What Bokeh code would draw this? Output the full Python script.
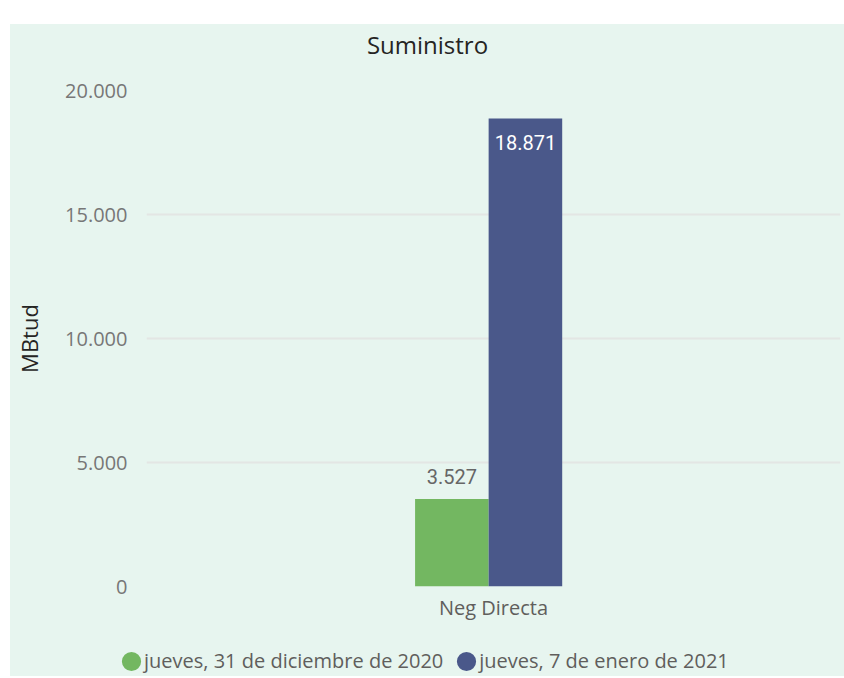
from bokeh.plotting import figure
from bokeh.models import (FactorRange, Range1d, FixedTicker, ColumnDataSource, Legend, LegendItem,
                          Spacer, Label)
from bokeh.layouts import column, row
from bokeh.transform import dodge
from bokeh.core.properties import value
from bokeh.embed import file_html
from bokeh.resources import INLINE

# ---- data ----
categories = ["Neg Directa"]
series_names = ["jueves, 31 de diciembre de 2020", "jueves, 7 de enero de 2021"]
values_dic31 = [3527]
values_ene07 = [18871]
y_ticks = [0, 5000, 10000, 15000, 20000]
y_tick_labels = ["0", "5.000", "10.000", "15.000", "20.000"]
title_text = "Suministro"
y_label = "MBtud"

def fmt(v):
    return f"{v:,}".replace(",", ".")

BG = "#e7f5ef"
GREEN = "#73b761"
NAVY = "#4a588a"
GRAY = "#666666"
DARK = "#252423"
FONT = "Open Sans"


def strip(h):
    f = figure(width=834, height=h, output_backend="svg", toolbar_location=None,
               x_range=Range1d(0, 1), y_range=Range1d(0, 1),
               min_border_left=0, min_border_right=0, min_border_top=0, min_border_bottom=0)
    f.background_fill_color = BG
    f.border_fill_color = BG
    f.outline_line_color = None
    f.axis.visible = False
    f.grid.visible = False
    return f


# ---- title strip ----
t = strip(40)
t.add_layout(Label(x=0.5, y=0.5, text=title_text, text_align="center", text_baseline="middle",
                   text_font=FONT, text_font_size="24px", text_color=DARK))

# ---- main chart ----
p = figure(x_range=FactorRange(*categories, range_padding=0), y_range=Range1d(0, 20000),
           width=834, height=562, output_backend="svg", toolbar_location=None,
           min_border_left=136, min_border_right=4, min_border_top=26, min_border_bottom=40)
p.background_fill_color = BG
p.border_fill_color = BG
p.outline_line_color = None

src = ColumnDataSource(dict(cat=categories, a=values_dic31, b=values_ene07,
                            la=[fmt(v) for v in values_dic31], lb=[fmt(v) for v in values_ene07]))

bw = 0.106
p.vbar(x=dodge("cat", -0.06, range=p.x_range), top="a", width=bw, source=src,
       fill_color=GREEN, line_color=None)
p.vbar(x=dodge("cat", 0.046, range=p.x_range), top="b", width=bw, source=src,
       fill_color=NAVY, line_color=None)

p.text(x=dodge("cat", -0.06, range=p.x_range), y="a", text="la", source=src,
       text_font=value("Roboto"), text_font_size="20px", text_color=GRAY,
       text_align="center", text_baseline="middle", y_offset=-23)
p.text(x=dodge("cat", 0.046, range=p.x_range), y="b", text="lb", source=src,
       text_font=value("Roboto"), text_font_size="20px", text_color="white",
       text_align="center", text_baseline="middle", y_offset=24)

p.yaxis.ticker = FixedTicker(ticks=y_ticks)
p.yaxis.major_label_overrides = {tk: lb for tk, lb in zip(y_ticks, y_tick_labels)}
p.yaxis.axis_line_color = None
p.yaxis.major_tick_line_color = None
p.yaxis.minor_tick_line_color = None
p.yaxis.major_tick_out = 0
p.yaxis.major_label_standoff = 19
p.yaxis.major_label_text_font = FONT
p.yaxis.major_label_text_font_size = "20px"
p.yaxis.major_label_text_color = "#777777"
p.yaxis.axis_label = y_label
p.yaxis.axis_label_text_font = FONT
p.yaxis.axis_label_text_font_size = "22px"
p.yaxis.axis_label_text_font_style = "normal"
p.yaxis.axis_label_text_color = DARK
p.yaxis.axis_label_standoff = 18

p.xaxis.axis_line_color = None
p.xaxis.major_tick_line_color = None
p.xaxis.major_tick_out = 0
p.xaxis.major_label_standoff = 7
p.xaxis.major_label_text_font = FONT
p.xaxis.major_label_text_font_size = "20px"
p.xaxis.major_label_text_color = "#605e5c"

p.xgrid.grid_line_color = None
p.ygrid.grid_line_color = "#e3e6e4"
p.ygrid.grid_line_width = 2

# ---- legend strip ----
q = strip(50)
nan = float("nan")
ra = q.ellipse(x=[nan], y=[nan], width=19, height=19, width_units="screen", height_units="screen",
               fill_color=GREEN, line_color=None)
rb = q.ellipse(x=[nan], y=[nan], width=19, height=19, width_units="screen", height_units="screen",
               fill_color=NAVY, line_color=None)
legend = Legend(items=[LegendItem(label=series_names[0], renderers=[ra]),
                       LegendItem(label=series_names[1], renderers=[rb])],
                orientation="horizontal", location=(109, 2),
                background_fill_alpha=0, border_line_color=None,
                label_text_font=FONT, label_text_font_size="20px", label_text_color="#605e5c",
                glyph_width=24, glyph_height=24, label_standoff=1, spacing=11, padding=0, margin=0)
q.add_layout(legend, "center")

inner = column(row(t), row(p), row(q), spacing=0, styles={"background-color": BG})
layout = column(Spacer(height=24), row(Spacer(width=10), inner), spacing=0)
open("out.html", "w").write(file_html(layout, INLINE))
